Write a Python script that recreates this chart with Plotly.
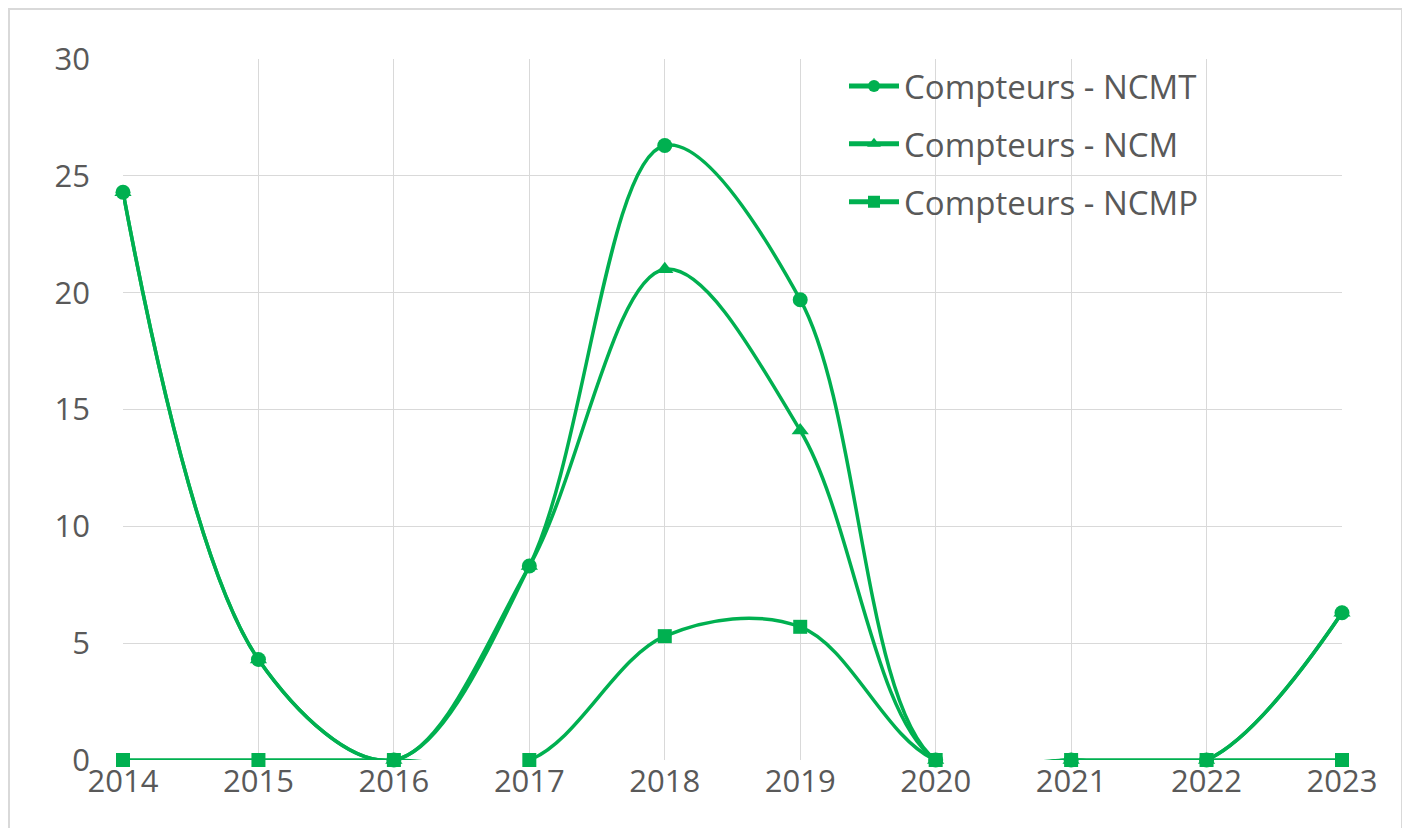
import plotly.graph_objects as go

years = [2014, 2015, 2016, 2017, 2018, 2019, 2020, 2021, 2022, 2023]
ncmt = [24.3, 4.3, 0, 8.3, 26.3, 19.7, 0, 0, 0, 6.3]
ncm = [24.3, 4.3, 0, 8.3, 21.0, 14.1, 0, 0, 0, 6.3]
ncmp = [0, 0, 0, 0, 5.3, 5.7, 0, 0, 0, 0]

GREEN = "#00B050"
TXT = "#595959"
GRID = "#D9D9D9"

fig = go.Figure()
series = [("Compteurs - NCMT", ncmt, "circle", 15),
          ("Compteurs - NCM", ncm, "triangle-up", 15),
          ("Compteurs - NCMP", ncmp, "square", 14)]
for i, (name, vals, sym, sz) in enumerate(series):
    fig.add_trace(go.Scatter(
        x=years, y=vals, name=name, mode="lines+markers", legendgroup=f"g{i}",
        line=dict(color=GREEN, width=3.5, shape="spline", smoothing=1.0),
        marker=dict(color=GREEN, symbol=sym, size=sz),
        cliponaxis=False,
    ))

# page offset of the figure (body margin)
OFF = 8
W, H = 1394, 820
# desired plot area in page pixels
PX0, PX1, PY0, PY1 = 123, 1342, 59, 760
L = PX0 - OFF
R = (OFF + W) - PX1
T = PY0 - OFF
B = (OFF + H) - PY1
pw = PX1 - PX0
ph = PY1 - PY0

def xp(px):
    return (px - PX0) / pw

def yp(py):
    return (PY1 - py) / ph

fig.update_layout(
    width=W, height=H,
    margin=dict(l=L, r=R, t=T, b=B),
    paper_bgcolor="white", plot_bgcolor="white",
    font=dict(family="Open Sans", size=31, color=TXT),
    showlegend=True,
    legend=dict(x=xp(844), y=yp(58), xanchor="left", yanchor="top",
                bgcolor="rgba(0,0,0,0)", font=dict(size=33, color=TXT),
                itemsizing="constant", itemwidth=50,
                traceorder="grouped", tracegroupgap=12),
    xaxis=dict(range=[2014, 2023], tickmode="array", tickvals=years,
               ticktext=[str(y) for y in years], showgrid=True, gridcolor=GRID,
               gridwidth=1.3, zeroline=False, showline=False, ticks="",
               tickfont=dict(size=31, color=TXT)),
    yaxis=dict(range=[0, 30], dtick=5, showgrid=True, gridcolor=GRID, gridwidth=1.3,
               zeroline=False, showline=False, ticks="", ticklabelstandoff=32,
               tickfont=dict(size=31, color=TXT)),
    shapes=[dict(type="rect", xref="paper", yref="paper",
                 x0=xp(9), x1=xp(1402), y0=yp(900), y1=yp(9),
                 line=dict(color="#D9D9D9", width=2), layer="below")],
)

fig.write_html("out.html")
